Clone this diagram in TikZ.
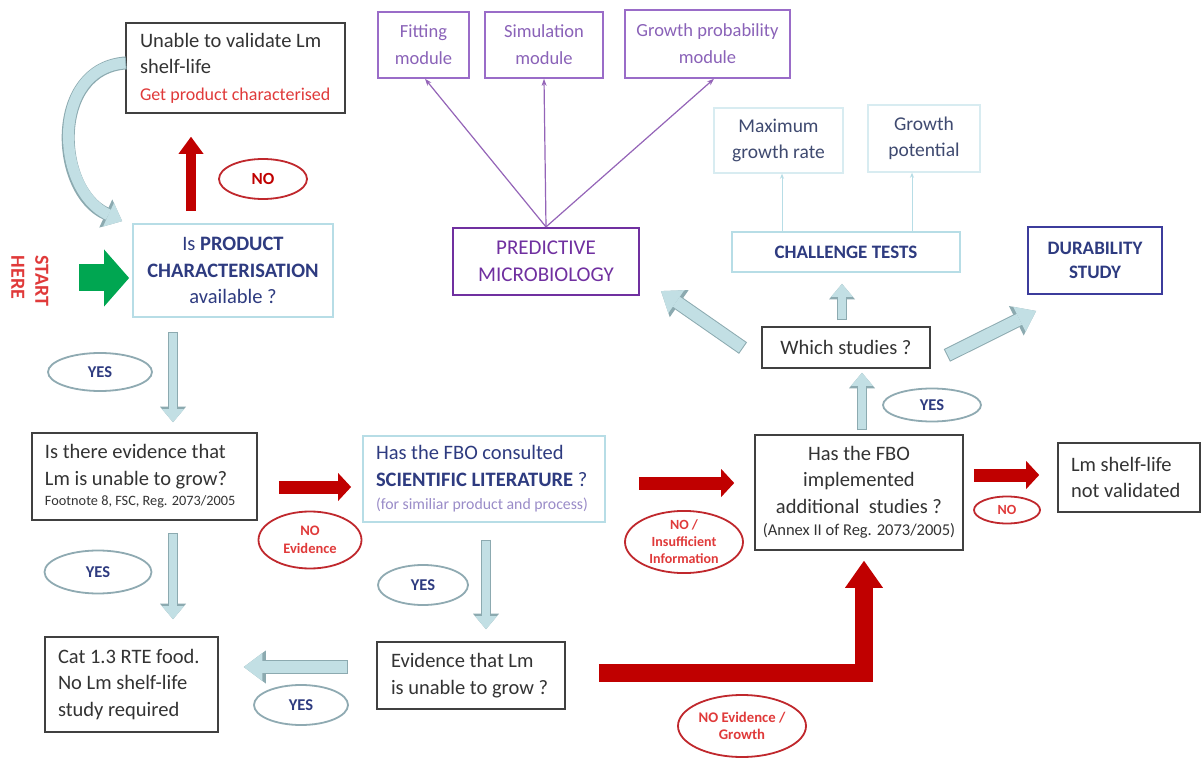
\documentclass[tikz,border=0pt]{standalone}
\usepackage{fontspec}
\setmainfont{Carlito}
\usetikzlibrary{arrows.meta,shapes.geometric,calc}
\definecolor{boxgray}{HTML}{404040}
\definecolor{lbb}{HTML}{B7DDE6}
\definecolor{vlb}{HTML}{D8ECF1}
\definecolor{navy}{HTML}{2E3B80}
\definecolor{purp}{HTML}{7030A0}
\definecolor{lpurp}{HTML}{9A6CC8}
\definecolor{modtxt}{HTML}{8A62B8}
\definecolor{durb}{HTML}{3C3C9C}
\definecolor{darkred}{HTML}{C00000}
\definecolor{redtxt}{HTML}{E03A3A}
\definecolor{redell}{HTML}{C0282D}
\definecolor{yesell}{HTML}{8FAAB2}
\definecolor{afill}{HTML}{C2DFE4}
\definecolor{aborder}{HTML}{8CAAB0}
\definecolor{sgreen}{HTML}{00A651}
\definecolor{lav}{HTML}{9A8CC8}
\definecolor{mgray}{HTML}{3F4A70}
\newcommand\fs[2]{\fontsize{#1}{#2}\selectfont}
\newcommand\harrow[2]{\draw[#1o] #2; \draw[#1i] #2;}
\tikzset{
  base/.style={inner sep=0pt, font=\fs{20.5}{26.5}},
  blackbox/.style={base, draw=boxgray, line width=1.6pt, text=black!80},
  lbbox/.style={base, draw=lbb, line width=1.8pt, text=navy},
  vlbox/.style={base, draw=vlb, line width=1.5pt, text=mgray, font=\fs{19.5}{26}},
  modbox/.style={base, draw=lpurp, line width=1.6pt, text=modtxt, font=\fs{18.5}{27}, align=flush center},
  redel/.style={ellipse, draw=redell, line width=1.8pt, inner sep=0pt, text=redtxt, font=\bfseries\fs{14}{17}, align=flush center},
  yesel/.style={ellipse, draw=yesell, line width=1.8pt, inner sep=0pt, text=navy, font=\bfseries\fs{16.5}{18}},
  purpar/.style={draw=purp!75, line width=1.2pt, -{Stealth[length=7pt,width=5pt]}},
  thinar/.style={draw=lbb, line width=1pt, -{Stealth[length=5pt,width=4pt]}},
  redar/.style={draw=darkred, line width=13pt, -{Triangle[line width=0pt,width=28pt,length=13pt]}},
  redarv/.style={draw=darkred, line width=10pt, -{Triangle[line width=0pt,width=25pt,length=17pt]}},
  redbig/.style={draw=darkred, line width=18pt, line join=miter, -{Triangle[line width=0pt,width=38pt,length=27pt]}},
  greenar/.style={draw=sgreen, line width=27pt, -{Triangle[line width=0pt,width=57pt,length=25pt]}},
  smo/.style={draw=aborder, line width=10pt, shorten <=-1pt, -{Triangle[line width=0pt,width=26pt,length=15.5pt]}},
  smi/.style={draw=afill, line width=8pt, -{Triangle[line width=0pt,width=22pt,length=13pt]}},
  mdo/.style={draw=aborder, line width=14pt, shorten <=-1pt, -{Triangle[line width=0pt,width=33pt,length=22pt]}},
  mdi/.style={draw=afill, line width=12pt, -{Triangle[line width=0pt,width=28pt,length=18.5pt]}},
  cvo/.style={draw=aborder, line width=13pt, shorten <=-1pt, -{Triangle[line width=0pt,width=31pt,length=18pt]}},
  cvi/.style={draw=afill, line width=11pt, -{Triangle[line width=0pt,width=26pt,length=15pt]}},
}
\begin{document}
\begin{tikzpicture}[x=1pt,y=-1pt]
\fill[white] (0,0) rectangle (1203,759);
\path[use as bounding box] (0,0) rectangle (1203,759);

% boxes
\node[blackbox, minimum width=219pt, minimum height=90pt, text width=191pt, align=flush left] (unable) at (235.5,68)
  {Unable to validate Lm\\shelf-life\\{\fs{18}{20}\color{redtxt}Get product characterised}};
\node[lbbox, minimum width=200pt, minimum height=93pt, align=flush center] (prod) at (233,270.5)
  {Is \textbf{PRODUCT}\\\textbf{CHARACTERISATION}\\available ?};
\node[font=\bfseries\fs{20}{24}, text=redtxt, rotate=-90, align=flush left, inner sep=0pt] (start) at (30,281) {START\\HERE};
\node[blackbox, minimum width=225pt, minimum height=87pt, text width=199pt, align=flush left] (evid) at (144.5,476.5)
  {Is there evidence that\\Lm is unable to grow?\\[-6pt]{\fs{14.3}{15}Footnote 8, FSC, Reg. 2073/2005}};
\node[blackbox, minimum width=173pt, minimum height=95pt, text width=147pt, align=flush left] (cat) at (131.5,684.5)
  {Cat 1.3 RTE food.\\No Lm shelf-life\\study required};
\node[lbbox, minimum width=242pt, minimum height=86pt, text width=216pt, align=flush left] (sci) at (484,479)
  {Has the FBO consulted\\\textbf{SCIENTIFIC LITERATURE} ?\\[-3pt]{\fs{15.8}{18}\color{lav}(for similiar product and process)}};
\node[blackbox, minimum width=188pt, minimum height=67pt, text width=160pt, align=flush left] (ev2) at (471,675.5)
  {Evidence that Lm\\is unable to grow ?};
\node[blackbox, minimum width=208pt, minimum height=115pt, align=flush center] (fbo) at (859,492.5)
  {Has the FBO\\implemented\\additional\ \ studies ?\\[-4pt]{\fs{16.5}{17}(Annex II of Reg. 2073/2005)}};
\node[blackbox, minimum width=142pt, minimum height=69pt, text width=116pt, align=flush left] (nv) at (1129,477.5)
  {Lm shelf-life\\not validated};
\node[blackbox, minimum width=168pt, minimum height=41pt] (which) at (846,347.5) {Which studies ?};
\node[lbbox, minimum width=228pt, minimum height=40pt, font=\bfseries\fs{19}{22}] (chal) at (846,252) {CHALLENGE TESTS};
\node[vlbox, minimum width=129pt, minimum height=65pt, align=flush center] (maxgr) at (778.5,140.5) {Maximum\\growth rate};
\node[vlbox, minimum width=112pt, minimum height=67pt, align=flush center] (gpot) at (924,138.5) {Growth\\potential};
\node[base, draw=durb, line width=2pt, text=navy, font=\bfseries\fs{19}{24}, minimum width=134pt, minimum height=67pt, align=flush center] (dur) at (1095,260.5) {DURABILITY\\STUDY};
\node[base, draw=purp, line width=2.2pt, text=purp, font=\fs{21}{27}, minimum width=186pt, minimum height=67pt, align=flush center] (pred) at (546,261.5) {PREDICTIVE\\MICROBIOLOGY};
\node[modbox, minimum width=91pt, minimum height=66pt] (fit) at (423.5,45) {Fitting\\module};
\node[modbox, minimum width=118pt, minimum height=66pt] (sim) at (544,45) {Simulation\\module};
\node[modbox, minimum width=165pt, minimum height=68pt] (gprob) at (707.5,44) {Growth probability\\module};

% ellipses
\node[redel, minimum width=88pt, minimum height=40pt, text=darkred, font=\bfseries\fs{17}{18}] (no1) at (263,179) {NO};
\node[redel, minimum width=103pt, minimum height=57pt, font=\bfseries\fs{14.5}{18}] (noev) at (310,540) {NO\\Evidence};
\node[redel, minimum width=118pt, minimum height=60pt] (noins) at (684,542) {NO /\\Insufficient\\Information};
\node[redel, minimum width=128pt, minimum height=62pt, font=\bfseries\fs{14.7}{17}] (nogr) at (742,726) {NO Evidence /\\Growth};
\node[redel, minimum width=66pt, minimum height=27pt, font=\bfseries\fs{14}{14}] (no2) at (1007,510) {NO};
\node[yesel, minimum width=104pt, minimum height=38pt] (yes1) at (100,372) {YES};
\node[yesel, minimum width=107pt, minimum height=43pt] (yes2) at (98,572) {YES};
\node[yesel, minimum width=90pt, minimum height=40pt] (yes3) at (423,585) {YES};
\node[yesel, minimum width=94pt, minimum height=40pt] (yes4) at (301,705) {YES};
\node[yesel, minimum width=98pt, minimum height=33pt] (yes5) at (932,405) {YES};

% purple and thin arrows
\draw[purpar] (pred.north) -- ([xshift=1.5pt]fit.south);
\draw[purpar] (pred.north) -- (sim.south);
\draw[purpar] (pred.north) -- ([xshift=6.5pt]gprob.south);
\draw[thinar] ([xshift=3.5pt]maxgr.south |- chal.north) -- ([xshift=3.5pt]maxgr.south);
\draw[thinar] ([xshift=-12pt]gpot.south |- chal.north) -- ([xshift=-12pt]gpot.south);

% red arrows
\draw[redarv] ($(prod.north)+(-42,-12)$) -- ($(unable.south)+(-44.5,23)$);
\draw[redar] ($(evid.east)+(21,10.5)$) -- ($(sci.west)+(-11,8)$);
\draw[redar] ($(sci.east)+(33,4)$) -- ($(fbo.west)+(-20,-9.5)$);
\draw[redar] ($(fbo.east)+(10,-17.5)$) -- ($(nv.west)+(-18,-2.5)$);
\draw[redbig] ($(ev2.east)+(33,-3)$) -| ($(fbo.south)+(5,10)$);
\draw[greenar] ($(prod.west)+(-53,7.5)$) -- ($(prod.west)+(-3,7.5)$);

% light hollow arrows
\harrow{sm}{($(prod.south)+(-60,15)$) -- ($(evid.north)+(28.5,-10)$)}
\harrow{sm}{($(evid.south)+(28.5,13)$) -- ($(cat.north)+(41.5,-17)$)}
\harrow{sm}{($(sci.south)+(2,18)$) -- ($(ev2.north)+(15,-12)$)}
\harrow{md}{($(ev2.west)+(-29,-8.5)$) -- ($(cat.east)+(25,-17.5)$)}
\harrow{sm}{($(fbo.north)+(3,-5)$) -- ($(which.south)+(16,4)$)}
\harrow{sm}{($(which.north)+(-4,-7)$) -- ($(chal.south)+(-4,11)$)}
\harrow{md}{($(which.west)+(-19,0)$) -- ($(pred.south east)+(21,-5)$)}
\harrow{md}{($(which.east)+(17,7.5)$) -- ($(dur.south west)+(9,16)$)}
\harrow{cv}{($(unable.west)+(0,-5)$) .. controls (50,68) and (55,190) .. ($(prod.north west)+(-10,-2)$)}
\end{tikzpicture}
\end{document}
